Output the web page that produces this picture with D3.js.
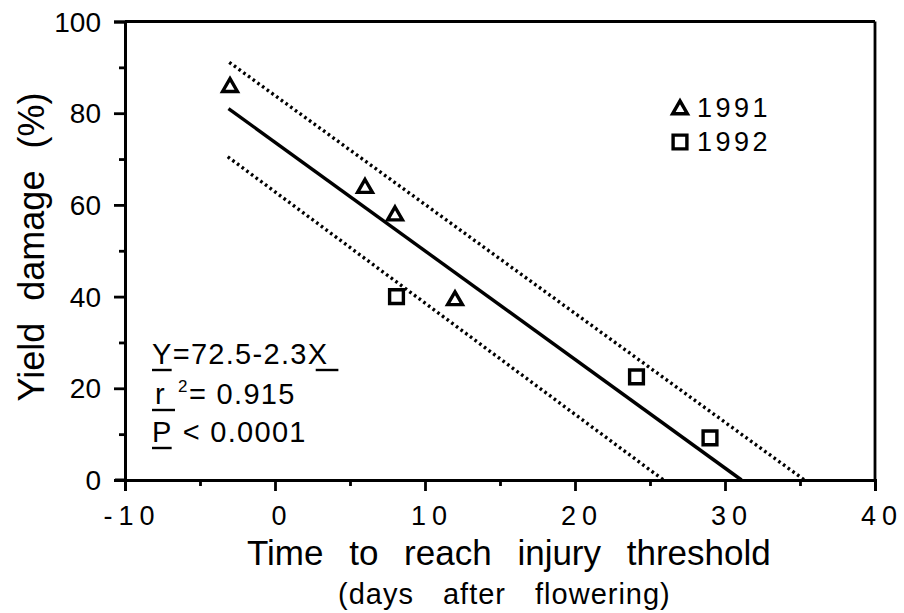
<!DOCTYPE html>
<html>
<head>
<meta charset="utf-8">
<script src="https://cdn.jsdelivr.net/npm/d3@7"></script>
<style>
  html, body { margin: 0; padding: 0; background: #fff; }
  svg { display: block; }
  text { font-family: "Liberation Sans", Arial, Helvetica, sans-serif; fill: #000; }
</style>
</head>
<body>
<svg id="chart" width="904" height="613"></svg>
<script>
// ---- data ----
const years = ["1991", "1992"];
const x1991 = [-3.0, 6.0, 8.0, 12.0];
const y1991 = [86, 64, 58, 39.5];
const x1992 = [8.1, 24.1, 29.0];
const y1992 = [40, 22.5, 9.2];
const fitX = [-3.1, 31.1];
const fitY = [81, 0];
const upperX = [-3.05, 35.3];
const upperY = [91.1, 0];
const lowerX = [-3.15, 25.9];
const lowerY = [70.5, 0];
const xTicks = [-10, 0, 10, 20, 30, 40];
const xMinorTicks = [-5, 5, 15, 25, 35];
const yTicks = [0, 20, 40, 60, 80, 100];
const yMinorTicks = [10, 30, 50, 70, 90];
const xTitle = "Time to reach injury threshold";
const xSubtitle = "(days after flowering)";
const yTitle = "Yield damage (%)";

// ---- layout ----
const svg = d3.select("#chart");
const x = d3.scaleLinear().domain([-10, 40]).range([125, 875]);
const y = d3.scaleLinear().domain([0, 100]).range([480, 21.5]);

// frame (top and right)
svg.append("line").attr("x1", x(-10)).attr("x2", x(40)).attr("y1", y(100)).attr("y2", y(100))
  .attr("stroke", "#000").attr("stroke-width", 2.8);
svg.append("line").attr("x1", x(40)).attr("x2", x(40)).attr("y1", y(100)).attr("y2", y(0))
  .attr("stroke", "#000").attr("stroke-width", 2.8);

// axes
const xAxis = svg.append("g").attr("transform", `translate(0,${y(0)})`)
  .call(d3.axisBottom(x).tickValues(xTicks).tickSize(11).tickFormat(""));
const xAxisMinor = svg.append("g").attr("transform", `translate(0,${y(0)})`)
  .call(d3.axisBottom(x).tickValues(xMinorTicks).tickSize(6).tickFormat(""));
const yAxis = svg.append("g").attr("transform", `translate(${x(-10)},0)`)
  .call(d3.axisLeft(y).tickValues(yTicks).tickSize(11).tickFormat(""));
const yAxisMinor = svg.append("g").attr("transform", `translate(${x(-10)},0)`)
  .call(d3.axisLeft(y).tickValues(yMinorTicks).tickSize(6).tickFormat(""));
[xAxis, xAxisMinor, yAxis, yAxisMinor].forEach(g => {
  g.selectAll("path.domain").attr("stroke", "#000").attr("stroke-width", 3);
  g.selectAll(".tick line").attr("stroke", "#000").attr("stroke-width", 2.8);
});
xAxisMinor.select("path.domain").remove();
yAxisMinor.select("path.domain").remove();
svg.append("line").attr("x1", x(-10) - 10).attr("x2", x(-10)).attr("y1", y(0)).attr("y2", y(0))
  .attr("stroke", "#000").attr("stroke-width", 3);

// tick labels
svg.append("g").selectAll("text").data(xTicks).join("text")
  .attr("x", d => x(d) + 7).attr("y", 525)
  .attr("text-anchor", "middle").attr("font-size", 27).attr("letter-spacing", 6)
  .text(d => d < 0 ? "-" + Math.abs(d) : d);
svg.append("g").selectAll("text").data(yTicks).join("text")
  .attr("x", 101).attr("y", d => y(d) + 10)
  .attr("text-anchor", "end").attr("font-size", 28)
  .text(d => d);

// titles
svg.append("text").attr("x", 247).attr("y", 565)
  .attr("font-size", 35).attr("word-spacing", 16).text(xTitle);
svg.append("text").attr("x", 338).attr("y", 604)
  .attr("font-size", 29).attr("letter-spacing", 1).attr("word-spacing", 20).text(xSubtitle);
svg.append("text").attr("transform", "translate(44,247) rotate(-90)").attr("text-anchor", "middle")
  .attr("font-size", 36).attr("word-spacing", 12).text(yTitle);

// lines
const line = d3.line().x(d => x(d[0])).y(d => y(d[1]));
svg.append("path").datum(d3.zip(fitX, fitY)).attr("d", line)
  .attr("fill", "none").attr("stroke", "#000").attr("stroke-width", 3.4);
[[upperX, upperY], [lowerX, lowerY]].forEach(([xs, ys]) => {
  svg.append("path").datum(d3.zip(xs, ys)).attr("d", line)
    .attr("fill", "none").attr("stroke", "#000").attr("stroke-width", 3.4)
    .attr("stroke-dasharray", "2.6 3.2");
});

// points
const tri = d3.symbol().type(d3.symbolTriangle).size(95);
const sq = d3.symbol().type(d3.symbolSquare).size(190);
svg.append("g").selectAll("path").data(d3.zip(x1991, y1991)).join("path")
  .attr("d", tri).attr("transform", d => `translate(${x(d[0])},${y(d[1]) + 1.5})`)
  .attr("fill", "#fff").attr("stroke", "#000").attr("stroke-width", 3.4);
svg.append("g").selectAll("path").data(d3.zip(x1992, y1992)).join("path")
  .attr("d", sq).attr("transform", d => `translate(${x(d[0])},${y(d[1])})`)
  .attr("fill", "#fff").attr("stroke", "#000").attr("stroke-width", 3.4);

// legend
const legend = svg.append("g");
years.forEach((yr, i) => {
  const ly = 108 + i * 34;
  legend.append("path").attr("d", i === 0 ? tri : sq)
    .attr("transform", `translate(680,${ly + (i === 0 ? 1.5 : 0)})`)
    .attr("fill", "#fff").attr("stroke", "#000").attr("stroke-width", 3.4);
  legend.append("text").attr("x", 697).attr("y", ly + 9).attr("font-size", 27)
    .attr("letter-spacing", 3.5).text(yr);
});

// regression annotation with underlines
const ann = svg.append("g").attr("font-size", 29).attr("letter-spacing", 1.3);
function underline(x0, x1, yy) {
  ann.append("line").attr("x1", x0).attr("x2", x1).attr("y1", yy).attr("y2", yy)
    .attr("stroke", "#000").attr("stroke-width", 2.4);
}
const ax = 152;
// line 1
let t = ann.append("text").attr("x", ax).attr("y", 364).text("Y");
let w = t.node().getComputedTextLength();
underline(ax, ax + w - 1, 370);
let t2 = ann.append("text").attr("x", ax + w).attr("y", 364).text("=72.5-2.3");
let w2 = t2.node().getComputedTextLength();
let t3 = ann.append("text").attr("x", ax + w + w2).attr("y", 364).text("X");
let w3 = t3.node().getComputedTextLength();
underline(ax + w + w2 + 8, ax + w + w2 + w3 + 10, 370);
// line 2
t = ann.append("text").attr("x", ax + 3).attr("y", 404).text("r");
underline(ax, ax + 23, 410);
ann.append("text").attr("x", ax + 26).attr("y", 392).attr("font-size", 17).attr("letter-spacing", 0).text("2");
ann.append("text").attr("x", ax + 37).attr("y", 404).text("= 0.915");
// line 3
t = ann.append("text").attr("x", ax).attr("y", 442).text("P");
w = t.node().getComputedTextLength();
underline(ax, ax + w - 1, 448);
ann.append("text").attr("x", ax + w + 10).attr("y", 442).text("< 0.0001");
</script>
</body>
</html>
